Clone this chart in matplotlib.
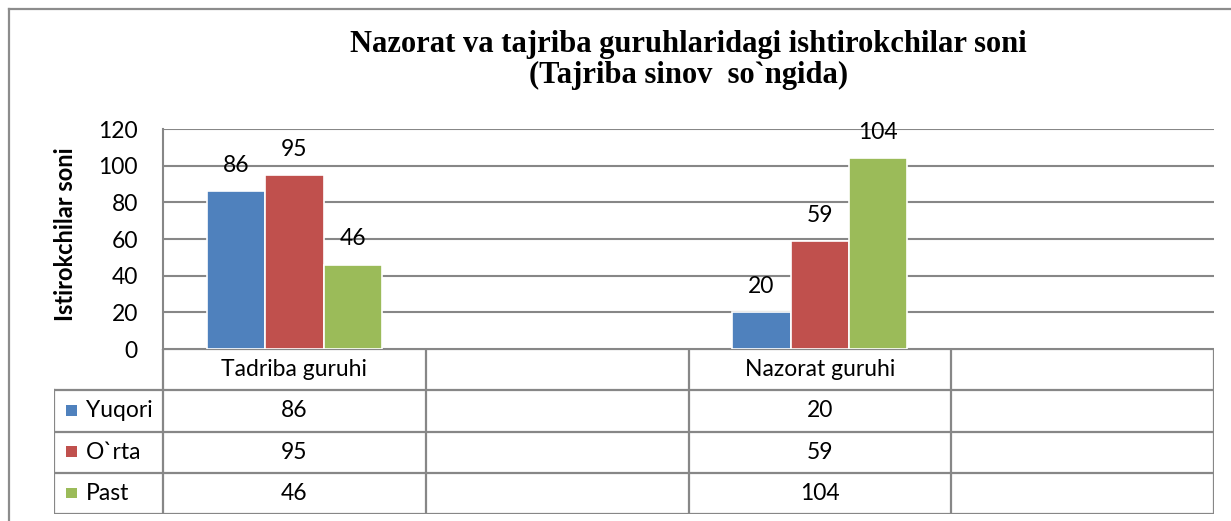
import numpy as np
import matplotlib
matplotlib.use('Agg')
import matplotlib.pyplot as plt
from matplotlib.lines import Line2D
from matplotlib.patches import Rectangle

# Ma'lumotlar
kategoriyalar = ['Tadriba guruhi', '', 'Nazorat guruhi', '']
seriya_nomlari = ['Yuqori', 'O`rta', 'Past']
yuqori = [86, np.nan, 20, np.nan]
orta = [95, np.nan, 59, np.nan]
past = [46, np.nan, 104, np.nan]
ranglar = ['#4F81BD', '#C0504D', '#9BBB59']
y_ticks = [0, 20, 40, 60, 80, 100, 120]

sarlavha = 'Nazorat va tajriba guruhlaridagi ishtirokchilar soni\n(Tajriba sinov  so`ngida)'
y_nomi = 'Istirokchilar soni'

W, H = 1231, 521
chiziq_rang = '#878787'
shrift = 'Lato'
fs = 16.5

fig = plt.figure(figsize=(W / 100, H / 100), dpi=100)

# asosiy o'qlar (piksel koordinatalaridan)
px_l, px_r, px_t, px_b = 163, 1214, 129, 349
ax = fig.add_axes([px_l / W, (H - px_b) / H, (px_r - px_l) / W, (px_b - px_t) / H])

x = np.arange(len(kategoriyalar))
guruh_eni = 1 / 1.5
bar_eni = guruh_eni / 3
seriyalar = [yuqori, orta, past]
for i, vals in enumerate(seriyalar):
    pos = x + (i - 1) * bar_eni
    ax.bar(pos, vals, width=bar_eni, color=ranglar[i], edgecolor='white',
           linewidth=1.2, zorder=3)
    for xp, v in zip(pos, vals):
        if not np.isnan(v):
            ax.annotate(str(int(v)), (xp, v), xytext=(0, 18.5), textcoords='offset points',
                        ha='center', va='center', fontsize=fs, family=shrift)

ax.set_xlim(-0.5, len(kategoriyalar) - 0.5)
ax.set_ylim(0, 120)
ax.set_yticks(y_ticks)
ax.set_yticklabels([str(t) for t in y_ticks], fontsize=fs, family=shrift)
ax.tick_params(axis='y', length=0, pad=18)
ax.set_xticks([])
ax.grid(axis='y', color=chiziq_rang, linewidth=1.5, zorder=0)
for s in ['top', 'right', 'bottom']:
    ax.spines[s].set_visible(False)
ax.spines['left'].set_color(chiziq_rang)
ax.spines['left'].set_linewidth(1.5)
ax.set_ylabel(y_nomi, fontsize=17, fontweight='bold', family=shrift)
ax.yaxis.set_label_coords((77 - px_l) / (px_r - px_l), 0.52)

# jadval
tab_l, tab_b = 54, 514
tx = fig.add_axes([tab_l / W, (H - tab_b) / H, (px_r - tab_l) / W, (tab_b - px_b) / H])
birlik = (px_r - px_l) / len(kategoriyalar)
tx.set_xlim(-0.5 - (px_l - tab_l) / birlik, len(kategoriyalar) - 0.5)
tx.set_ylim(4, 0)
tx.axis('off')
x0 = tx.get_xlim()[0]
x1 = len(kategoriyalar) - 0.5
lk = dict(color=chiziq_rang, linewidth=1.6, solid_capstyle='projecting')
# gorizontal chiziqlar
tx.plot([-0.5, x1], [0, 0], **lk)
for r in range(1, 5):
    tx.plot([x0, x1], [r, r], **lk)
# vertikal chiziqlar
tx.plot([x0, x0], [1, 4], **lk)
for c in range(len(kategoriyalar) + 1):
    tx.plot([c - 0.5, c - 0.5], [0, 4], **lk)

for j, nom in enumerate(kategoriyalar):
    tx.text(j, 0.5, nom, ha='center', va='center', fontsize=fs, family=shrift)
for i, vals in enumerate(seriyalar):
    tx.add_patch(Rectangle((x0 + 0.045, i + 1.5 - 0.14), 0.042, 0.26,
                           color=ranglar[i], linewidth=0))
    tx.text(x0 + 0.12, i + 1.5, seriya_nomlari[i], ha='left', va='center',
            fontsize=fs, family=shrift)
    for j, v in enumerate(vals):
        if not np.isnan(v):
            tx.text(j, i + 1.5, str(int(v)), ha='center', va='center',
                    fontsize=fs, family=shrift)

# sarlavha
fig.text((px_l + px_r) / 2 / W, 1 - 60 / H, sarlavha, ha='center', va='center',
         fontsize=22, fontweight='bold', family='Liberation Serif', linespacing=1.1)

# tashqi ramka
fig.add_artist(Line2D([9 / W, 9 / W], [0, 1 - 9 / H], color='#8c8c8c', linewidth=1.6))
fig.add_artist(Line2D([9 / W, 1], [1 - 9 / H, 1 - 9 / H], color='#8c8c8c', linewidth=1.6))

fig.savefig('out.png', dpi=100)
